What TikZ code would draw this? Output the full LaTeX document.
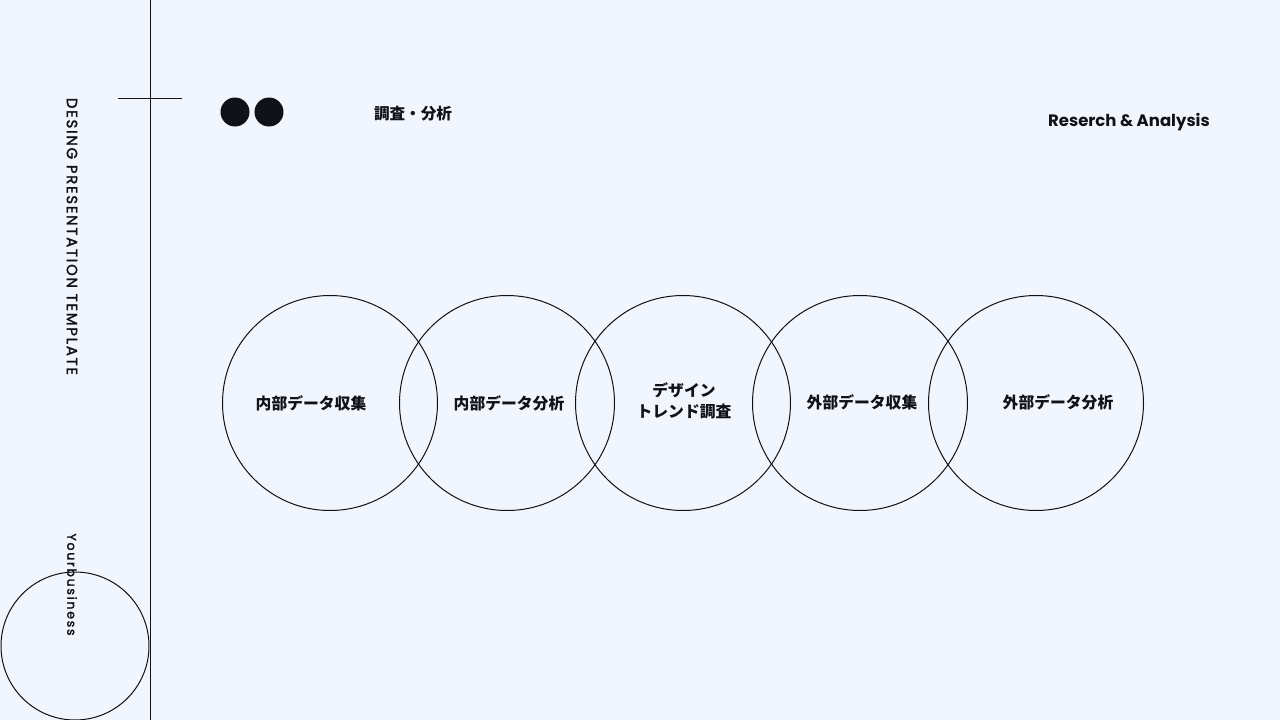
\documentclass[tikz,border=0pt]{standalone}
\usepackage{fontspec}
\setmainfont{Poppins}
\newfontfamily\jp{Noto Sans CJK JP}
\newfontfamily\latin{Poppins}
\newfontfamily\titlefont[LetterSpace=12,FakeBold=2]{Poppins}
\newfontfamily\ybfont[LetterSpace=14,FakeBold=2]{Poppins}
\definecolor{bg}{RGB}{241,246,254}
\definecolor{ink}{RGB}{17,17,24}
\begin{document}
\begin{tikzpicture}[x=1pt,y=-1pt,
  line/.style={draw=ink,line width=0.9pt},
  bigc/.style={circle,draw=ink,line width=1pt,minimum size=215pt,inner sep=0pt},
  lbl/.style={font=\jp\bfseries\fontsize{15.8}{21}\selectfont,text=ink,align=center},
  dot/.style={circle,fill=ink,minimum size=29pt,inner sep=0pt}]
\fill[bg] (0,0) rectangle (1280,720);
\useasboundingbox (0,0) rectangle (1280,720);
% frame lines
\coordinate (vt) at (150,0); \coordinate (vb) at (150,720);
\draw[line] (vt) -- (vb);
\coordinate (hl) at (118,98); \coordinate (hr) at (182,98);
\draw[line] (hl) -- (hr);
% bottom-left circle
\node[circle,draw=ink,line width=1pt,minimum size=148pt,inner sep=0pt] (bc) at (75,646) {};
% vertical texts
\node[rotate=-90,text=ink,font=\titlefont\fontsize{14.8}{16}\selectfont,inner sep=0pt] (title) at (72,236.5) {DESING PRESENTATION TEMPLATE};
\node[rotate=-90,text=ink,font=\ybfont\fontsize{12.5}{14}\selectfont,inner sep=0pt] (yb) at (72,584.5) {Yourbusiness};
% dots
\node[dot] (d1) at (235,112) {};
\node[dot] (d2) at (269,112) {};
% headers
\node[font=\jp\bfseries\fontsize{15.6}{16}\selectfont,text=ink,inner sep=0pt] (jh) at (413,114) {調査・分析};
\node[font=\latin\bfseries\fontsize{16.5}{20}\selectfont,text=ink,inner sep=0pt,anchor=east] (eh) at (1210,122) {Reserch \& Analysis};
% big circles
\node[bigc] (c1) at (330,403) {};
\node[bigc] (c2) at (507,403) {};
\node[bigc] (c3) at (683,403) {};
\node[bigc] (c4) at (860,403) {};
\node[bigc] (c5) at (1036,403) {};
\node[lbl] (l1) at (311,403) {内部データ収集};
\node[lbl] (l2) at (509,403) {内部データ分析};
\node[lbl] (l3) at (684,401) {デザイン\\トレンド調査};
\node[lbl] (l4) at (862,402) {外部データ収集};
\node[lbl] (l5) at (1058,402) {外部データ分析};
\end{tikzpicture}
\end{document}
